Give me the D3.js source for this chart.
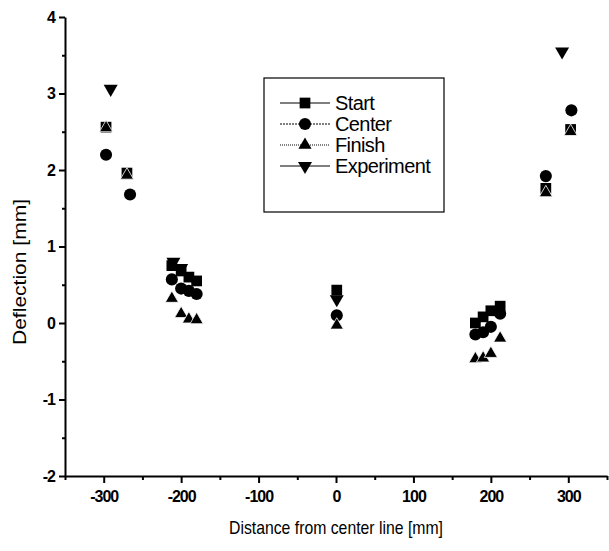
<!DOCTYPE html>
<html><head><meta charset="utf-8">
<script src="https://cdn.jsdelivr.net/npm/d3@7"></script>
<style>
body{margin:0;background:#fff;}
text{font-family:"Liberation Sans",Arial,sans-serif;fill:#000;}
</style></head>
<body><svg id="c" width="609" height="551"></svg>
<script>
// Data (x in mm, deflection in mm)
const startX  = [-297, -270, -212, -200, -190, -180, 1, 180, 190, 200, 212, 271, 303];
const startY  = [2.56, 1.96, 0.75, 0.68, 0.60, 0.55, 0.43, 0.00, 0.08, 0.16, 0.22, 1.76, 2.53];
const centerX = [-297, -266, -212, -200, -190, -180, 1, 180, 190, 200, 212, 271, 304];
const centerY = [2.20, 1.68, 0.57, 0.45, 0.42, 0.38, 0.10, -0.15, -0.12, -0.05, 0.12, 1.92, 2.78];
const finishX = [-297, -270, -212, -200, -190, -180, 1, 180, 190, 200, 212, 271, 303];
const finishY = [2.55, 1.93, 0.32, 0.12, 0.05, 0.04, -0.03, -0.47, -0.46, -0.40, -0.20, 1.70, 2.50];
const experX  = [-291, -210, -200, 1, 292];
const experY  = [3.06, 0.80, 0.72, 0.31, 3.55];
const xTicks = [-300, -200, -100, 0, 100, 200, 300];
const yTicks = [-2, -1, 0, 1, 2, 3, 4];
const legendLabels = ["Start", "Center", "Finish", "Experiment"];

const svg = d3.select("#c");
const x = d3.scaleLinear().domain([-350, 350]).range([65, 607]);
const y = d3.scaleLinear().domain([-2, 4]).range([476, 17]);
const fmt = d => String(d);

// axes
svg.append("g").attr("transform", `translate(0,${y(-2)})`)
  .call(d3.axisBottom(x).tickValues(xTicks).tickFormat(fmt).tickSize(7).tickPadding(8).tickSizeOuter(0));
svg.append("g").attr("transform", `translate(0,${y(-2)})`)
  .call(d3.axisBottom(x).tickValues(d3.range(-350, 351, 100)).tickSize(4).tickFormat("").tickSizeOuter(0))
  .select(".domain").remove();
svg.append("g").attr("transform", `translate(${x(-350)},0)`)
  .call(d3.axisLeft(y).tickValues(yTicks).tickFormat(fmt).tickSize(6).tickPadding(4).tickSizeOuter(0));
svg.append("g").attr("transform", `translate(${x(-350)},0)`)
  .call(d3.axisLeft(y).tickValues(d3.range(-1.5, 4, 1)).tickSize(3).tickFormat("").tickSizeOuter(0))
  .select(".domain").remove();
svg.selectAll(".domain").attr("stroke", "#000").attr("stroke-width", 2);
svg.selectAll(".tick line").attr("stroke", "#000").attr("stroke-width", 2);
svg.selectAll(".tick text").style("font-size", "16px").style("font-weight", "bold").style("letter-spacing", "-1px");

// axis titles
svg.append("text").attr("x", 336).attr("y", 534).attr("text-anchor", "middle")
  .attr("textLength", 214).attr("lengthAdjust", "spacingAndGlyphs")
  .style("font-size", "19px").text("Distance from center line [mm]");
svg.append("text").attr("transform", "translate(26,272) rotate(-90)").attr("text-anchor", "middle")
  .attr("textLength", 146).attr("lengthAdjust", "spacingAndGlyphs")
  .style("font-size", "19px").text("Deflection [mm]");

// markers
const sym = {
  square: d3.symbol().type(d3.symbolSquare).size(115),
  circle: d3.symbol().type(d3.symbolCircle).size(115),
  up: d3.symbol().type(d3.symbolTriangle).size(75),
};
function downTri(s){ return d3.symbol().type(d3.symbolTriangle).size(s)(); }

function plot(xs, ys, pathD, rot, stroke){
  svg.append("g").selectAll("path").data(xs.map((v,i)=>[v, ys[i]])).join("path")
    .attr("d", pathD)
    .attr("transform", d => `translate(${x(d[0])},${y(d[1])})${rot ? " rotate(180)" : ""}`)
    .attr("fill", "#000").attr("stroke", stroke || "none").attr("stroke-width", 0.8);
}
plot(experX, experY, downTri(85), true);
plot(startX, startY, sym.square(), false);
plot(centerX, centerY, sym.circle(), false);
plot(finishX, finishY, sym.up(), false, "#fff");

// legend
const lg = svg.append("g");
lg.append("rect").attr("x", 264).attr("y", 78).attr("width", 180).attr("height", 134)
  .attr("fill", "#fff").attr("stroke", "#000").attr("stroke-width", 1.2);
const legendStyles = [
  {d: sym.square(), rot: false, dash: null, w: 1.2},
  {d: sym.circle(), rot: false, dash: "2,1", w: 1},
  {d: sym.up(), rot: false, dash: "1,1", w: 1},
  {d: downTri(85), rot: true, dash: null, w: 1.2},
];
legendLabels.forEach((lab, i) => {
  const cy = 103 + i * 21;
  const st = legendStyles[i];
  lg.append("line").attr("x1", 280).attr("x2", 330).attr("y1", cy).attr("y2", cy)
    .attr("stroke", "#000").attr("stroke-width", st.w).attr("stroke-dasharray", st.dash);
  lg.append("path").attr("d", st.d).attr("transform", `translate(305,${cy})${st.rot ? " rotate(180)" : ""}`).attr("fill", "#000");
  lg.append("text").attr("x", 335).attr("y", cy + 7).style("font-size", "20px").style("letter-spacing", "-0.6px").text(lab);
});
</script></body></html>
